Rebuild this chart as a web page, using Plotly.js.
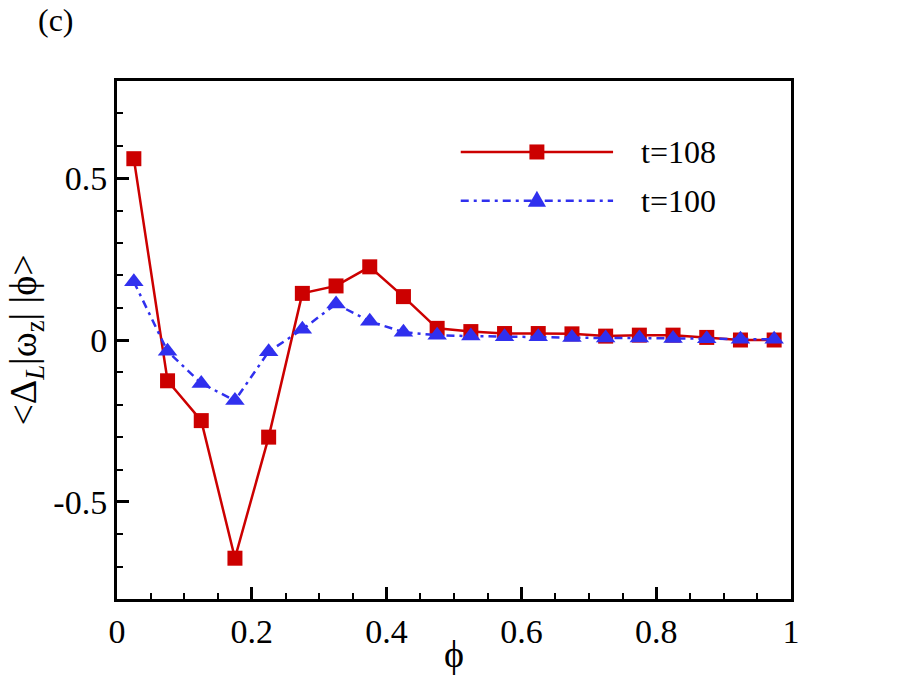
<!DOCTYPE html>
<html>
<head>
<meta charset="utf-8">
<script src="https://cdn.plot.ly/plotly-3.0.1.min.js"></script>
<style>
  body { margin: 0; background: #fff; }
  #myDiv { width: 900px; height: 675px; }
</style>
</head>
<body>
<div id="myDiv"></div>
<script>
// bin centres of phi
let phi = [0.025, 0.075, 0.125, 0.175, 0.225, 0.275, 0.325, 0.375, 0.425, 0.475,
           0.525, 0.575, 0.625, 0.675, 0.725, 0.775, 0.825, 0.875, 0.925, 0.975];

// t=108 (red squares)
let t108 = [0.56, -0.126, -0.249, -0.674, -0.300, 0.144, 0.167, 0.226, 0.134, 0.036,
            0.026, 0.020, 0.020, 0.019, 0.012, 0.015, 0.015, 0.008, 0.000, 0.000];

// t=100 (blue triangles)
let t100 = [0.18, -0.035, -0.134, -0.187, -0.036, 0.033, 0.111, 0.058, 0.024, 0.015,
            0.012, 0.010, 0.010, 0.008, 0.006, 0.006, 0.005, 0.004, 0.002, 0.002];

let seriesNames = ['t=108', 't=100'];
let xTicks = [0, 0.2, 0.4, 0.6, 0.8, 1];
let xTickText = ['0', '0.2', '0.4', '0.6', '0.8', '1'];
let yTicks = [-0.5, 0, 0.5];
let yTickText = ['-0.5', '0', '0.5'];

const serif = '"Liberation Serif", "Times New Roman", Times, serif';
const red = '#cc0000';
const blue = '#3030ee';
const blueDash = '8px,5px,3px,5px';

let traces = [
  {
    x: phi, y: t108, name: seriesNames[0],
    mode: 'lines+markers',
    line: { color: red, width: 2.5 },
    marker: { symbol: 'square', size: 15, color: red }
  },
  {
    x: phi, y: t100, name: seriesNames[1],
    mode: 'lines+markers',
    line: { color: blue, width: 2.5, dash: blueDash },
    marker: { symbol: 'triangle-up', size: 17, color: blue }
  }
];

let axisCommon = {
  showline: true, linecolor: '#000', linewidth: 3, mirror: true,
  ticks: 'inside', ticklen: 12, tickwidth: 3, tickcolor: '#000',
  showgrid: false, zeroline: false,
  tickfont: { family: serif, size: 34, color: '#000' }
};

// hand-drawn legend box (long sample lines like the original), in paper units
let legRows = [0.863, 0.769];
let legX0 = 0.510, legX1 = 0.736, legMid = 0.623, legText = 0.774;
let hx = 0.0111, hy = 0.0145;
let shapes = [
  { type: 'line', xref: 'paper', yref: 'paper', x0: legX0, x1: legX1, y0: legRows[0], y1: legRows[0],
    line: { color: red, width: 2.5 } },
  { type: 'rect', xref: 'paper', yref: 'paper', x0: legMid - hx, x1: legMid + hx,
    y0: legRows[0] - hy, y1: legRows[0] + hy, fillcolor: red, line: { width: 0 } },
  { type: 'line', xref: 'paper', yref: 'paper', x0: legX0, x1: legX1, y0: legRows[1], y1: legRows[1],
    line: { color: blue, width: 2.5, dash: blueDash } },
  { type: 'path', xref: 'paper', yref: 'paper',
    path: 'M' + (legMid - 0.0135) + ',' + (legRows[1] - 0.012) +
          ' L' + (legMid + 0.0135) + ',' + (legRows[1] - 0.012) +
          ' L' + legMid + ',' + (legRows[1] + 0.019) + ' Z',
    fillcolor: blue, line: { width: 0 } }
];

let annotations = [
  { text: '(c)', xref: 'paper', yref: 'paper', x: -0.12, y: 1.118,
    xanchor: 'left', yanchor: 'middle', showarrow: false,
    font: { family: serif, size: 32, color: '#000' } }
];
seriesNames.forEach(function (nm, i) {
  annotations.push({ text: nm, xref: 'paper', yref: 'paper', x: legText, y: legRows[i],
    xanchor: 'left', yanchor: 'middle', showarrow: false,
    font: { family: serif, size: 32, color: '#000' } });
});

let layout = {
  width: 900, height: 675,
  margin: { l: 117, r: 109, t: 81, b: 76 },
  paper_bgcolor: '#fff', plot_bgcolor: '#fff',
  showlegend: false,
  font: { family: serif, color: '#000' },
  xaxis: Object.assign({}, axisCommon, {
    range: [0, 1],
    tickvals: xTicks, ticktext: xTickText,
    minor: { dtick: 0.05, ticks: 'inside', ticklen: 6, tickwidth: 1.5, tickcolor: '#000' },
    title: { text: 'ϕ', font: { family: serif, size: 38, color: '#000' }, standoff: 0 }
  }),
  yaxis: Object.assign({}, axisCommon, {
    range: [-0.8, 0.8],
    tickvals: yTicks, ticktext: yTickText,
    minor: { dtick: 0.1, ticks: 'inside', ticklen: 6, tickwidth: 1.5, tickcolor: '#000' },
    title: { text: '&lt;Δ<sub><i>L</i></sub>|ω<sub>z</sub>| |ϕ&gt;', font: { family: serif, size: 38, color: '#000' }, standoff: 6 }
  }),
  shapes: shapes,
  annotations: annotations
};

Plotly.newPlot('myDiv', traces, layout, { displayModeBar: false });
</script>
</body>
</html>
